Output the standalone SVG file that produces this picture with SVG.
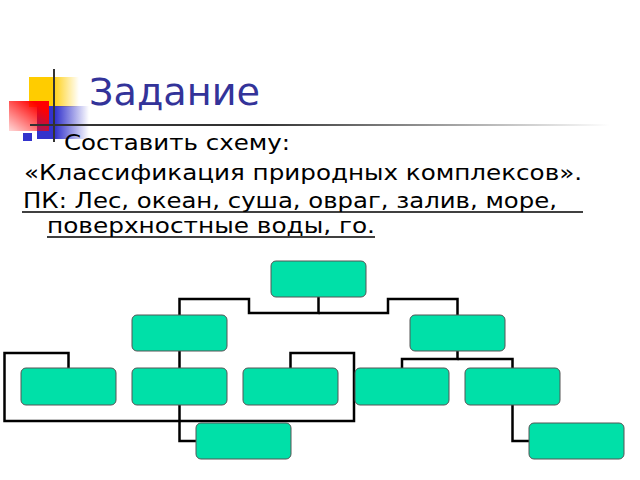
<svg xmlns="http://www.w3.org/2000/svg" width="640" height="480" viewBox="0 0 640 480">
<defs>
<linearGradient id="gy" x1="0" y1="0" x2="1" y2="0"><stop offset="0.45" stop-color="#ffcc00"/><stop offset="1" stop-color="#ffcc00" stop-opacity="0"/></linearGradient>
<linearGradient id="gb" x1="0" y1="0" x2="1" y2="0"><stop offset="0.35" stop-color="#3333cc"/><stop offset="1" stop-color="#3333cc" stop-opacity="0"/></linearGradient>
<linearGradient id="gr" x1="1" y1="0" x2="0" y2="1"><stop offset="0.2" stop-color="#ff0000"/><stop offset="1" stop-color="#ff0000" stop-opacity="0.15"/></linearGradient>
<linearGradient id="gl" x1="0" y1="0" x2="1" y2="0"><stop offset="0.4" stop-color="#333333"/><stop offset="1" stop-color="#333333" stop-opacity="0"/></linearGradient>
</defs>
<style>
.box{fill:#00e0a8;stroke:#555555;stroke-width:1}
.conn{fill:none;stroke:#000000;stroke-width:2.5}
.t{font-family:"DejaVu Sans","Noto Sans",sans-serif;fill:#000000}
.ul{stroke:#000000;stroke-width:1.5}
</style>
<g id="decor">
<rect x="29" y="77" width="50" height="30" fill="url(#gy)"/>
<rect x="37" y="106" width="52" height="33" fill="url(#gb)"/>
<rect x="9" y="101" width="40" height="30" fill="url(#gr)"/>
<rect x="23" y="133" width="9" height="8" fill="#3333cc"/>
<line x1="54" y1="69" x2="54" y2="142" stroke="#333333" stroke-width="2"/>
<rect x="30" y="124" width="580" height="2" fill="url(#gl)"/>
</g>
<text class="t" x="89" y="105" font-size="37" style="fill:#333399" textLength="171" lengthAdjust="spacingAndGlyphs">Задание</text>
<text class="t" x="64" y="150" font-size="22" textLength="226" lengthAdjust="spacingAndGlyphs">Составить схему:</text>
<text class="t" x="24" y="180" font-size="22" textLength="558" lengthAdjust="spacingAndGlyphs">«Классификация природных комплексов».</text>
<text class="t" x="23" y="208" font-size="22" textLength="534" lengthAdjust="spacingAndGlyphs">ПК: Лес, океан, суша, овраг, залив, море,</text>
<line class="ul" x1="22" y1="212" x2="583" y2="212"/>
<text class="t" x="47" y="233" font-size="22" textLength="328" lengthAdjust="spacingAndGlyphs">поверхностные воды, го.</text>
<line class="ul" x1="47" y1="237" x2="375" y2="237"/>
<g id="connectors">
<path class="conn" d="M318.5 297 V313 H249 V299 H179.5 V315"/>
<path class="conn" d="M318.5 313 H388 V299 H457.5 V315"/>
<path class="conn" d="M179.5 351 V368"/>
<path class="conn" d="M179.5 405 V441 H196"/>
<path class="conn" d="M179.5 421 H4.5 V353 H68.5 V368"/>
<path class="conn" d="M179.5 421 H354 V353 H290.5 V368"/>
<path class="conn" d="M457.5 351 V359 H402 V368"/>
<path class="conn" d="M457.5 359 H512.5 V368"/>
<path class="conn" d="M512.5 405 V441 H529"/>
</g>
<g id="root"><rect class="box" x="271" y="261" width="95" height="36" rx="5"/></g>
<g id="mid-left"><rect class="box" x="132" y="315" width="95" height="36" rx="5"/></g>
<g id="mid-right"><rect class="box" x="410" y="315" width="95" height="36" rx="5"/></g>
<g id="leaf-a"><rect class="box" x="21" y="368" width="95" height="37" rx="5"/></g>
<g id="leaf-b"><rect class="box" x="132" y="368" width="95" height="37" rx="5"/></g>
<g id="leaf-c"><rect class="box" x="243" y="368" width="95" height="37" rx="5"/></g>
<g id="leaf-d"><rect class="box" x="355" y="368" width="94" height="37" rx="5"/></g>
<g id="leaf-e"><rect class="box" x="465" y="368" width="95" height="37" rx="5"/></g>
<g id="leaf-f"><rect class="box" x="196" y="423" width="95" height="36" rx="5"/></g>
<g id="leaf-g"><rect class="box" x="529" y="423" width="95" height="36" rx="5"/></g>
</svg>
